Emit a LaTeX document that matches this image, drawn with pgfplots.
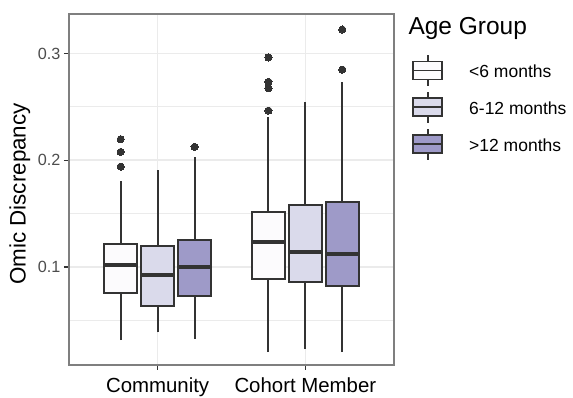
\documentclass[border=0pt]{standalone}
\usepackage{fontspec}
\setmainfont{Liberation Sans}
\usepackage{pgfplots}
\pgfplotsset{compat=1.18}
\definecolor{cA}{HTML}{FCFBFD}
\definecolor{cB}{HTML}{DADAEB}
\definecolor{cC}{HTML}{9E9AC8}
\definecolor{dk}{HTML}{333333}
\definecolor{grd}{HTML}{EBEBEB}
\definecolor{brd}{HTML}{7F7F7F}
\definecolor{tk}{HTML}{4D4D4D}
\pgfplotsset{
  bx/.style={draw=dk, line width=1.9pt, fill=#1, mark=none, forget plot},
  wh/.style={dk, line width=1.9pt, mark=none, forget plot},
  md/.style={dk, line width=3.8pt, mark=none, forget plot},
  ol/.style={only marks, mark=*, mark size=3.6pt, mark options={fill=dk, draw=dk, line width=0pt}, forget plot},
  mykey/.style={legend image code/.code={
    \draw[dk, line width=1.9pt, fill=#1] (0pt,-7.2pt) rectangle (29pt,10.8pt);
    \draw[dk, line width=1.9pt] (0pt,1.8pt) -- (29pt,1.8pt);
    \draw[dk, line width=1.9pt] (14.5pt,10.8pt) -- (14.5pt,17.3pt);
    \draw[dk, line width=1.9pt] (14.5pt,-7.2pt) -- (14.5pt,-13.7pt);
  }}
}
\begin{document}
\begin{tikzpicture}
\begin{axis}[
  scale only axis, width=325pt, height=351pt,
  xmin=0.4, xmax=2.6, ymin=0.0082, ymax=0.337,
  xtick={1,2}, xticklabels={Community, Cohort Member},
  ytick={0.1,0.2,0.3}, yticklabels={0.1,0.2,0.3},
  minor ytick={0.05,0.15,0.25},
  xmajorgrids, ymajorgrids, yminorgrids,
  major grid style={grd, line width=1.6pt},
  minor grid style={grd, line width=0.8pt},
  axis line style={brd, line width=1.3pt},
  major tick style={dk, line width=1.3pt},
  major tick length=5pt, minor tick length=0pt,
  tick align=outside, xtick pos=bottom, ytick pos=left,
  yticklabel style={font=\fontsize{16.2}{19}\selectfont, text=tk},
  xticklabel style={font=\fontsize{20.4}{24}\selectfont, text=black, yshift=-4pt},
  ylabel={Omic Discrepancy},
  ylabel style={at={(axis description cs:-0.151,0.487)}, anchor=center, rotate=0, font=\fontsize{22.4}{26}\selectfont},
  legend style={at={(axis description cs:1.0563,0.886)}, anchor=north west,
    draw=none, fill=none, inner sep=0pt, outer sep=0pt, row sep=4pt, column sep=26pt,
    nodes={inner sep=0pt}, font=\fontsize{17.5}{21}\selectfont},
  legend cell align=left,
  clip=false,
]
\addlegendimage{mykey=cA}
\addlegendimage{mykey=cB}
\addlegendimage{mykey=cC}
\legend{<6 months, 6-12 months, >12 months}
% ---- Community, <6 months (x = 0.75)
\addplot[wh] coordinates {(0.75,0.0316) (0.75,0.0756)};
\addplot[wh] coordinates {(0.75,0.1213) (0.75,0.1806)};
\addplot[bx=cA] coordinates {(0.6375,0.0756) (0.8625,0.0756) (0.8625,0.1213) (0.6375,0.1213)} --cycle;
\addplot[md] coordinates {(0.6375,0.1019) (0.8625,0.1019)};
\addplot[ol] coordinates {(0.75,0.2197) (0.75,0.2078) (0.75,0.1940)};
% ---- Community, 6-12 months (x = 1.0)
\addplot[wh] coordinates {(1.0,0.0388) (1.0,0.0632)};
\addplot[wh] coordinates {(1.0,0.1200) (1.0,0.1909)};
\addplot[bx=cB] coordinates {(0.8875,0.0632) (1.1125,0.0632) (1.1125,0.1200) (0.8875,0.1200)} --cycle;
\addplot[md] coordinates {(0.8875,0.0922) (1.1125,0.0922)};
% ---- Community, >12 months (x = 1.25)
\addplot[wh] coordinates {(1.25,0.0328) (1.25,0.0725)};
\addplot[wh] coordinates {(1.25,0.1256) (1.25,0.2028)};
\addplot[bx=cC] coordinates {(1.1375,0.0725) (1.3625,0.0725) (1.3625,0.1256) (1.1375,0.1256)} --cycle;
\addplot[md] coordinates {(1.1375,0.1003) (1.3625,0.1003)};
\addplot[ol] coordinates {(1.25,0.2125)};
% ---- Cohort Member, <6 months (x = 1.75)
\addplot[wh] coordinates {(1.75,0.0203) (1.75,0.0890)};
\addplot[wh] coordinates {(1.75,0.1518) (1.75,0.2406)};
\addplot[bx=cA] coordinates {(1.6375,0.0890) (1.8625,0.0890) (1.8625,0.1518) (1.6375,0.1518)} --cycle;
\addplot[md] coordinates {(1.6375,0.1234) (1.8625,0.1234)};
\addplot[ol] coordinates {(1.75,0.2963) (1.75,0.2734) (1.75,0.2675) (1.75,0.2465)};
% ---- Cohort Member, 6-12 months (x = 2.0)
\addplot[wh] coordinates {(2.0,0.0231) (2.0,0.0859)};
\addplot[wh] coordinates {(2.0,0.1584) (2.0,0.2549)};
\addplot[bx=cB] coordinates {(1.8875,0.0859) (2.1125,0.0859) (2.1125,0.1584) (1.8875,0.1584)} --cycle;
\addplot[md] coordinates {(1.8875,0.1138) (2.1125,0.1138)};
% ---- Cohort Member, >12 months (x = 2.25)
\addplot[wh] coordinates {(2.25,0.0203) (2.25,0.0822)};
\addplot[wh] coordinates {(2.25,0.1606) (2.25,0.2731)};
\addplot[bx=cC] coordinates {(2.1375,0.0822) (2.3625,0.0822) (2.3625,0.1606) (2.1375,0.1606)} --cycle;
\addplot[md] coordinates {(2.1375,0.1122) (2.3625,0.1122)};
\addplot[ol] coordinates {(2.25,0.3224) (2.25,0.2849)};
\node[anchor=base west, inner sep=0pt, font=\fontsize{24.5}{29}\selectfont] at (axis description cs:1.044,0.9402) {Age Group};
\end{axis}
\pgfresetboundingbox
\path[use as bounding box] (-69pt,-33pt) rectangle (504pt,365pt);
\end{tikzpicture}
\end{document}
